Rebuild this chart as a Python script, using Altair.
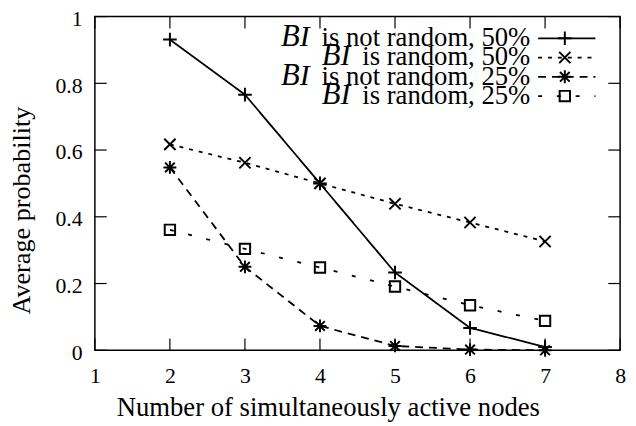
import altair as alt
import pandas as pd

# ---------------- data ----------------
nodes = [2, 3, 4, 5, 6, 7]
not_random_50 = [0.931, 0.766, 0.500, 0.233, 0.067, 0.010]
random_50 = [0.617, 0.562, 0.500, 0.439, 0.383, 0.326]
not_random_25 = [0.548, 0.250, 0.073, 0.013, 0.002, 0.0]
random_25 = [0.361, 0.304, 0.248, 0.191, 0.135, 0.088]

series_names = ["is not random, 50%", "is random, 50%", "is not random, 25%", "is random, 25%"]
series_prefix = ["B", "I"]
series_values = [not_random_50, random_50, not_random_25, random_25]

x_ticks = [1, 2, 3, 4, 5, 6, 7, 8]
y_ticks = [0, 0.2, 0.4, 0.6, 0.8, 1.0]

x_title = "Number of simultaneously active nodes"
y_title = "Average probability"

# ---------------- styles ----------------
W, H = 532, 338
FONT = "'Liberation Serif', 'Times New Roman', Times, serif"
dashes = [[1, 0], [4, 6], [8, 6], [4, 15]]
PLUS = "M-1,0L1,0M0,-1L0,1"
CROSS = "M-1,-1L1,1M-1,1L1,-1"
STAR = "M-1,0L1,0M0,-1L0,1M-0.75,-0.75L0.75,0.75M-0.75,0.75L0.75,-0.75"
shapes = [PLUS, CROSS, STAR, "square"]
sizes = [190, 130, 170, 110]

xscale = alt.Scale(domain=[1, 8], nice=False, zero=False)
yscale = alt.Scale(domain=[0, 1], nice=False, zero=False)
xaxis = alt.Axis(values=x_ticks, format="d", labelPadding=16, titlePadding=8,
                 titleX=236, titleAlign="center", labelFlush=False,
                 ticks=False, tickSize=0, domain=False, grid=False)
yaxis = alt.Axis(values=y_ticks, format="~g", labelPadding=13, titlePadding=20,
                 titleY=196, titleAlign="center", labelFlush=False,
                 labelBaseline="alphabetic", labelOffset=9,
                 ticks=False, tickSize=0, domain=False, grid=False)


def X(field="x"):
    return alt.X(f"{field}:Q", scale=xscale, axis=xaxis, title=x_title)


def Y(field="y"):
    return alt.Y(f"{field}:Q", scale=yscale, axis=yaxis, title=y_title)


layers = []
for i, vals in enumerate(series_values):
    df = pd.DataFrame({"x": nodes, "y": vals})
    base = alt.Chart(df)
    layers.append(base.mark_line(color="black", strokeWidth=1.8, strokeDash=dashes[i])
                  .encode(x=X(), y=Y()))
    layers.append(base.mark_point(shape=shapes[i], size=sizes[i], filled=False,
                                  color="black", strokeWidth=2, opacity=1)
                  .encode(x=X(), y=Y()))

# inward ticks on all four sides
TL = 12
xt = alt.Chart(pd.DataFrame({"x": x_ticks}))
yt = alt.Chart(pd.DataFrame({"y": y_ticks}))
layers.append(xt.mark_rule(color="black", strokeWidth=1.2).encode(x=X(), y=alt.value(H), y2=alt.value(H - TL)))
layers.append(xt.mark_rule(color="black", strokeWidth=1.2).encode(x=X(), y=alt.value(0), y2=alt.value(TL)))
layers.append(yt.mark_rule(color="black", strokeWidth=1.2).encode(y=Y(), x=alt.value(0), x2=alt.value(TL)))
layers.append(yt.mark_rule(color="black", strokeWidth=1.2).encode(y=Y(), x=alt.value(W), x2=alt.value(W - TL)))

# ---------------- legend (top right, gnuplot style) ----------------
TIMES = {"i": 278, "s": 389, " ": 250, "n": 500, "o": 500, "t": 278, "r": 333, "a": 444,
         "d": 500, "m": 778, ",": 250, "%": 833}
LFS = 27


def text_width(s, fs):
    return sum(TIMES.get(c, 500) for c in s) * fs / 1000.0


text_right = 441
sample_x1, sample_x2, sample_mid = 449, 507, 476
baselines = [30, 49.5, 69, 88.5]
for i, name in enumerate(series_names):
    yb = baselines[i]
    ys = yb - 8
    start = text_right - text_width(name, LFS)
    one = pd.DataFrame({"t": [name], "b": [series_prefix[0]], "c": [series_prefix[1]]})
    c = alt.Chart(one)
    layers.append(c.mark_text(font=FONT, fontSize=LFS, align="right", baseline="alphabetic", color="black")
                  .encode(text="t:N", x=alt.value(text_right), y=alt.value(yb)))
    layers.append(c.mark_text(font=FONT, fontSize=LFS + 3, fontStyle="italic", align="right",
                              baseline="alphabetic", color="black")
                  .encode(text="c:N", x=alt.value(start - 12), y=alt.value(yb)))
    layers.append(c.mark_text(font=FONT, fontSize=LFS + 4, fontStyle="italic", align="right",
                              baseline="alphabetic", color="black")
                  .encode(text="b:N", x=alt.value(start - 22), y=alt.value(yb)))
    layers.append(c.mark_rule(color="black", strokeWidth=1.8, strokeDash=dashes[i])
                  .encode(x=alt.value(sample_x1), x2=alt.value(sample_x2), y=alt.value(ys)))
    layers.append(c.mark_point(shape=shapes[i], size=sizes[i], filled=False, color="black",
                               strokeWidth=2, opacity=1)
                  .encode(x=alt.value(sample_mid), y=alt.value(ys)))

chart = (
    alt.layer(*layers)
    .properties(width=W, height=H, background="white",
                autosize=alt.AutoSizeParams(type="none"),
                padding={"left": 88, "top": 6, "right": 8, "bottom": 72})
    .configure_view(stroke="black", strokeWidth=1.5)
    .configure_axisX(titleFontSize=27)
    .configure_axisY(titleFontSize=26.5)
    .configure_axis(labelFont=FONT, labelFontSize=22, labelColor="black",
                    titleFont=FONT, titleFontWeight="normal", titleColor="black")
)

chart.save("out.html", embed_options={"renderer": "svg", "actions": False})
